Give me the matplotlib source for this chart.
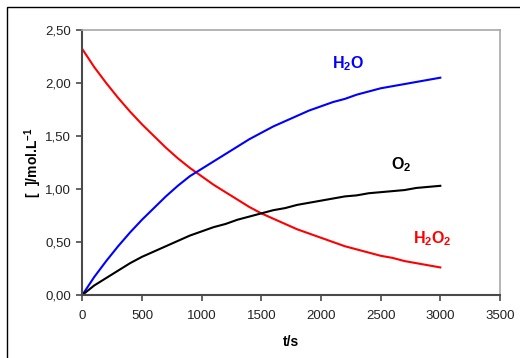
import matplotlib
matplotlib.use('Agg')
import matplotlib.pyplot as plt
from matplotlib.ticker import FuncFormatter, MultipleLocator
from matplotlib.patches import Rectangle

plt.rcParams['font.family'] = ['Liberation Sans', 'DejaVu Sans']
plt.rcParams['mathtext.fontset'] = 'custom'
plt.rcParams['mathtext.rm'] = 'Liberation Sans'
plt.rcParams['mathtext.bf'] = 'Liberation Sans:bold'

# time in seconds, concentrations in mol/L
t = [0, 100, 200, 300, 400, 500, 600, 700, 800, 900, 1000,
     1100, 1200, 1300, 1400, 1500, 1600, 1700, 1800, 1900, 2000,
     2100, 2200, 2300, 2400, 2500, 2600, 2700, 2800, 2900, 3000]
h2o2 = [2.32, 2.15, 2.00, 1.86, 1.73, 1.61, 1.50, 1.39, 1.29, 1.20, 1.12,
        1.04, 0.97, 0.90, 0.83, 0.77, 0.72, 0.67, 0.62, 0.58, 0.54,
        0.50, 0.46, 0.43, 0.40, 0.37, 0.35, 0.32, 0.30, 0.28, 0.26]
h2o = [0.00, 0.17, 0.32, 0.46, 0.59, 0.71, 0.82, 0.93, 1.03, 1.12, 1.19,
       1.26, 1.33, 1.40, 1.47, 1.53, 1.59, 1.64, 1.69, 1.74, 1.78,
       1.82, 1.85, 1.89, 1.92, 1.95, 1.97, 1.99, 2.01, 2.03, 2.05]
o2 = [0.00, 0.09, 0.16, 0.23, 0.30, 0.36, 0.41, 0.46, 0.51, 0.56, 0.60,
      0.64, 0.67, 0.71, 0.74, 0.77, 0.80, 0.82, 0.85, 0.87, 0.89,
      0.91, 0.93, 0.94, 0.96, 0.97, 0.98, 0.99, 1.01, 1.02, 1.03]

fig = plt.figure(figsize=(5.2, 3.58), dpi=100)
ax = fig.add_axes([0.1583, 0.176, 0.8032, 0.7402])

ax.plot(t, h2o2, color='#ff0000', lw=1.5)
ax.plot(t, h2o, color='#0000ff', lw=1.5)
ax.plot(t, o2, color='black', lw=1.5)

ax.text(2228, 2.18, r'$\mathbf{H_2O}$', color='#0000ff', fontsize=11.5,
        ha='center', va='center')
ax.text(2675, 1.23, r'$\mathbf{O_2}$', color='black', fontsize=11.5,
        ha='center', va='center')
ax.text(2934, 0.53, r'$\mathbf{H_2O_2}$', color='#ff0000', fontsize=11.5,
        ha='center', va='center')

ax.set_xlim(0, 3500)
ax.set_ylim(0, 2.5)
ax.xaxis.set_major_locator(MultipleLocator(500))
ax.yaxis.set_major_locator(MultipleLocator(0.5))
ax.yaxis.set_major_formatter(FuncFormatter(lambda v, _: f'{v:.2f}'.replace('.', ',')))

for s in ['left', 'bottom']:
    ax.spines[s].set_color('#4a4a4a')
    ax.spines[s].set_linewidth(1.5)
for s in ['top', 'right']:
    ax.spines[s].set_color('#a8a8a8')
    ax.spines[s].set_linewidth(1.2)
ax.tick_params(direction='out', length=4, width=1.2, color='#4a4a4a',
               labelsize=9.5, labelcolor='#222222')
ax.tick_params(axis='x', pad=7)
ax.tick_params(axis='y', pad=4)

ax.set_xlabel('t/s', fontsize=10, fontweight='bold', labelpad=9)
ax.set_ylabel(r'[  ]/mol.L$^{\mathbf{-1}}$', fontsize=10, fontweight='bold',
              labelpad=1)

# frame around the chart (right and bottom edges fall outside the image)
fig.add_artist(Rectangle((7 / 520, -0.1), 1.2, 1.1 - 7.5 / 358,
                         transform=fig.transFigure, fill=False,
                         edgecolor='black', lw=1.0))

fig.savefig('out.png', dpi=100)
